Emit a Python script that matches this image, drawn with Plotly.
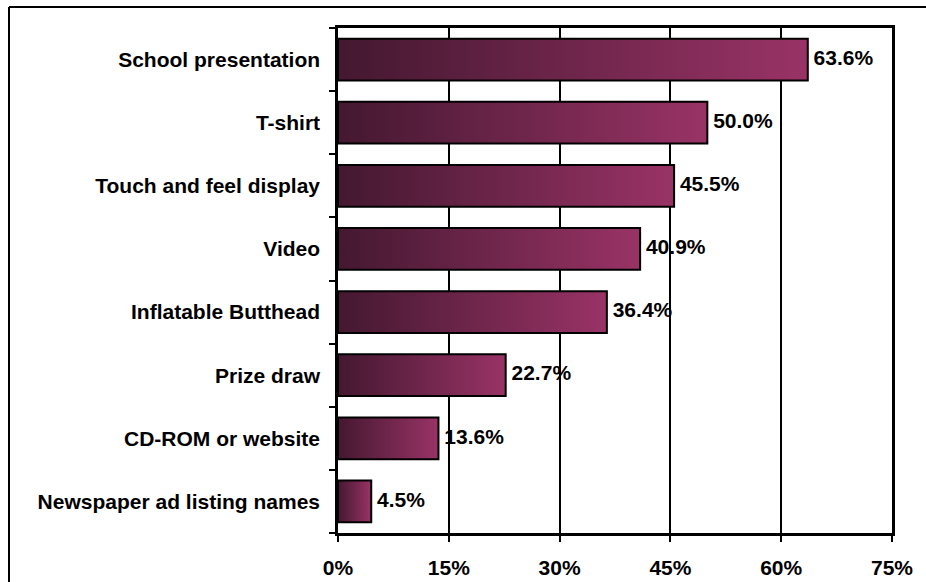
import plotly.graph_objects as go

categories = [
    "School presentation",
    "T-shirt",
    "Touch and feel display",
    "Video",
    "Inflatable Butthead",
    "Prize draw",
    "CD-ROM or website",
    "Newspaper ad listing names",
]
values = [63.6, 50.0, 45.5, 40.9, 36.4, 22.7, 13.6, 4.5]
x_ticks = [0, 15, 30, 45, 60, 75]
x_ticktext = [f"{t}%" for t in x_ticks]

BAR_HALF = 0.33
DARK = "#441830"
LIGHT = "#993366"
FONT = "Liberation Sans, Arial, sans-serif"
FSIZE = 21

W, H = 926, 582
ML, MR, MT, MB = 338, 34, 28, 49
PW, PH = W - ML - MR, H - MT - MB

fig = go.Figure()

# each bar is a filled polygon with a left-to-right colour gradient
for i, v in enumerate(values):
    fig.add_trace(go.Scatter(
        x=[0, v, v, 0, 0],
        y=[i - BAR_HALF, i - BAR_HALF, i + BAR_HALF, i + BAR_HALF, i - BAR_HALF],
        mode="lines",
        fill="toself",
        fillgradient=dict(type="horizontal",
                          colorscale=[[0, DARK], [1, LIGHT]]),
        line=dict(color="black", width=2),
        hoverinfo="skip",
        showlegend=False,
    ))

# value labels at the end of each bar
fig.add_trace(go.Scatter(
    x=values,
    y=list(range(len(values))),
    mode="text",
    text=[f" {v:.1f}%" for v in values],
    textposition="middle right",
    textfont=dict(family=FONT, size=FSIZE, color="black", weight="bold"),
    hoverinfo="skip",
    showlegend=False,
    cliponaxis=False,
))

# frame edges along the left and top of the chart area
frame_left = (9 - ML) / PW
frame_top = 1 + (MT - 7) / PH
frame_far_right = (W + 20 - ML) / PW
frame_far_bottom = -(MB + 20) / PH

fig.update_layout(
    width=W,
    height=H,
    margin=dict(l=ML, r=MR, t=MT, b=MB, autoexpand=False),
    paper_bgcolor="white",
    plot_bgcolor="white",
    font=dict(family=FONT, size=FSIZE, color="black"),
    xaxis=dict(
        range=[0, 75],
        tickvals=x_ticks,
        ticktext=x_ticktext,
        ticks="outside",
        ticklen=6,
        tickwidth=2,
        tickcolor="black",
        ticklabelstandoff=8,
        showline=True,
        linewidth=2.5,
        linecolor="black",
        mirror=True,
        showgrid=True,
        gridcolor="black",
        gridwidth=2,
        zeroline=False,
        automargin=False,
        tickfont=dict(family=FONT, size=FSIZE, color="black", weight="bold"),
        fixedrange=True,
    ),
    yaxis=dict(
        range=[len(values) - 0.5, -0.5],
        tickvals=list(range(len(categories))),
        ticktext=categories,
        ticks="",
        ticklabelstandoff=11,
        showline=True,
        linewidth=2.5,
        linecolor="black",
        mirror=True,
        showgrid=False,
        zeroline=False,
        automargin=False,
        tickfont=dict(family=FONT, size=FSIZE, color="black", weight="bold"),
        minor=dict(
            tick0=-0.5,
            dtick=1,
            ticks="outside",
            ticklen=6,
            tickwidth=2,
            tickcolor="black",
            showgrid=False,
        ),
        fixedrange=True,
    ),
    shapes=[
        dict(type="line", xref="paper", yref="paper",
             x0=frame_left, x1=frame_left, y0=frame_far_bottom, y1=frame_top,
             line=dict(color="black", width=2), layer="above"),
        dict(type="line", xref="paper", yref="paper",
             x0=frame_left, x1=frame_far_right, y0=frame_top, y1=frame_top,
             line=dict(color="black", width=2), layer="above"),
    ],
)

fig.write_html("out.html")
